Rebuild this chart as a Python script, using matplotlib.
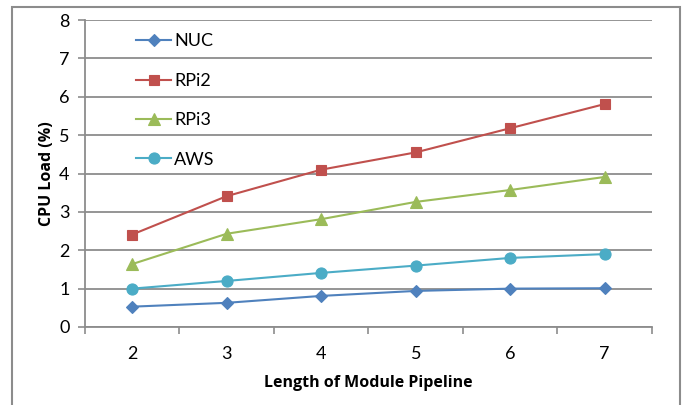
import matplotlib.pyplot as plt
from matplotlib.patches import Rectangle

# --- Data ---
pipeline_len = [2, 3, 4, 5, 6, 7]
nuc = [0.53, 0.63, 0.81, 0.94, 1.00, 1.01]
rpi2 = [2.41, 3.41, 4.10, 4.55, 5.18, 5.81]
rpi3 = [1.64, 2.43, 2.81, 3.26, 3.57, 3.91]
aws = [1.00, 1.20, 1.41, 1.60, 1.80, 1.90]

plt.rcParams['font.family'] = ['Lato', 'DejaVu Sans']

fig = plt.figure(figsize=(6.82, 4.05), dpi=100)
ax = fig.add_axes([0.1246, 0.1926, 0.8314, 0.758])

# outer chart border
fig.patches.append(Rectangle((12 / 682, -0.05), 668 / 682, 1.05 - 7 / 405,
                             transform=fig.transFigure, fill=False,
                             edgecolor='#8c8c8c', linewidth=1.5))

series = [
    ('NUC', nuc, '#4F81BD', 'D', 6),
    ('RPi2', rpi2, '#C0504D', 's', 7),
    ('RPi3', rpi3, '#9BBB59', '^', 8),
    ('AWS', aws, '#4BACC6', 'o', 8),
]
for name, vals, col, mk, ms in series:
    ax.plot(pipeline_len, vals, color=col, linewidth=1.5, marker=mk,
            markersize=ms, markerfacecolor=col, markeredgecolor=col,
            markeredgewidth=0.8, label=name)

ax.set_xlim(1.5, 7.5)
ax.set_ylim(0, 8)
ax.set_xticks(pipeline_len)
ax.set_xticks([1.5 + i for i in range(7)], minor=True)
ax.tick_params(axis='x', which='major', length=0, pad=14, labelsize=13)
ax.tick_params(axis='x', which='minor', length=5, width=1.2, color='#8c8c8c')
ax.set_yticks(range(0, 9))
ax.tick_params(axis='y', length=5, width=1.2, color='#8c8c8c', labelsize=13, pad=6)

ax.grid(axis='y', color='#8c8c8c', linewidth=1.3)
ax.set_axisbelow(True)
for side in ['top', 'right']:
    ax.spines[side].set_visible(False)
for side in ['left', 'bottom']:
    ax.spines[side].set_color('#8c8c8c')
    ax.spines[side].set_linewidth(1.3)

label_font = dict(family=['Open Sans', 'DejaVu Sans'], fontsize=11.5, fontweight='bold')
ax.set_xlabel('Length of Module Pipeline', labelpad=9, **label_font)
ax.set_ylabel('CPU Load (%)', labelpad=3, **label_font)

leg = ax.legend(loc='upper left', bbox_to_anchor=(0.078, 0.98), frameon=False,
                fontsize=13, handlelength=1.9, handletextpad=0.2,
                labelspacing=1.3, borderaxespad=0)

fig.savefig('out.png', dpi=100)
